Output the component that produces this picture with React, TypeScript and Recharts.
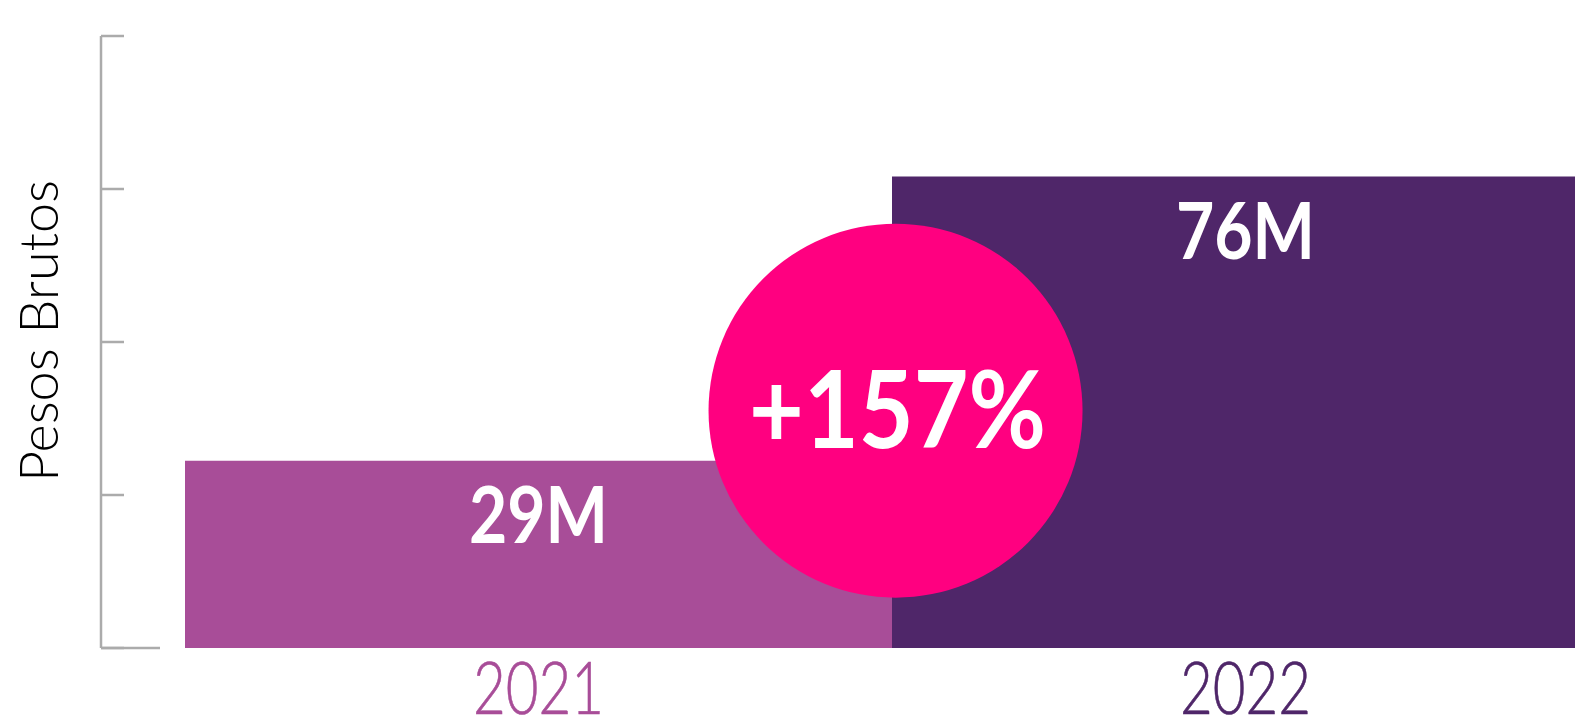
import React from "react";
import { BarChart, Bar, XAxis, YAxis, Cell, LabelList, ReferenceDot } from "recharts";

// Pesos brutos por año (millones)
const years = ["2021", "2022"];
const pesosBrutos = [30, 75.5];
const valueLabels = ["29M", "76M"];
const growthLabel = "+157%";
const yTicks = [0, 24.5, 49, 73.5, 98];
const barColors = ["#A84D98", "#4F2669"];

// position of the growth badge, in axis units
const badgeX = 1.005;
const badgeY = 38;

const data = years.map((year, i) => ({
  year,
  value: pesosBrutos[i],
  label: valueLabels[i],
  pos: i,
}));

const FONT = "Lato, 'Open Sans', sans-serif";
const AXIS_GREY = "#ABABAB";

function YearTick(props: any) {
  const { x, y, payload, index } = props;
  return (
    <text
      x={x}
      y={y + 66}
      textAnchor="middle"
      fontFamily={FONT}
      fontWeight={300}
      fontSize={72}
      fill={barColors[index]}
      stroke={barColors[index]}
      strokeWidth={0.6}
      textLength={131}
      lengthAdjust="spacingAndGlyphs"
    >
      {payload.value}
    </text>
  );
}

function YTick(props: any) {
  const { x, y, payload } = props;
  if (payload.value !== 0) return null;
  // the zero tick runs a bit longer than the others
  const x0 = x - 23;
  return <line x1={x0} y1={y} x2={x0 + 59} y2={y} stroke={AXIS_GREY} strokeWidth={2.5} />;
}

function ValueLabel(props: any) {
  const { x, y, width, index } = props;
  return (
    <text
      x={x + width / 2}
      y={y + 82}
      textAnchor="middle"
      fontFamily={FONT}
      fontWeight={700}
      fontSize={78}
      fill="#FFFFFF"
      textLength={139}
      lengthAdjust="spacingAndGlyphs"
    >
      {valueLabels[index]}
    </text>
  );
}

function Badge(props: any) {
  const { cx, cy } = props;
  return (
    <g>
      <circle cx={cx} cy={cy} r={187} fill="#FF0080" />
      <text
        x={cx + 2}
        y={cy + 37}
        textAnchor="middle"
        fontFamily={FONT}
        fontWeight={700}
        fontSize={107}
        fill="#FFFFFF"
        textLength={297}
        lengthAdjust="spacingAndGlyphs"
      >
        {growthLabel}
      </text>
    </g>
  );
}

function YTitle() {
  return (
    <text
      x={58}
      y={331}
      transform="rotate(-90 58 331)"
      textAnchor="middle"
      fontFamily={FONT}
      fontWeight={300}
      fontSize={54}
      fill="#000000"
    >
      Pesos Brutos
    </text>
  );
}

export default function App() {
  return (
    <div
      style={{
        position: "absolute",
        left: 0,
        top: 0,
        width: 1575,
        height: 718,
        overflow: "hidden",
        background: "#FFFFFF",
      }}
    >
      <BarChart
        width={1599}
        height={718}
        data={data}
        margin={{ top: 36, right: 0, left: 101, bottom: 0 }}
        barCategoryGap={0}
        barGap={0}
      >
        <XAxis
          dataKey="year"
          height={70}
          axisLine={false}
          tickLine={false}
          tickSize={0}
          tickMargin={0}
          padding={{ left: 84, right: 0 }}
          tick={<YearTick />}
          interval={0}
        />
        <XAxis
          xAxisId="pos"
          type="number"
          dataKey="pos"
          domain={[0, 2]}
          allowDataOverflow
          hide
          padding={{ left: 84, right: 0 }}
        />
        <YAxis
          mirror
          domain={[0, 98]}
          ticks={yTicks}
          tickSize={23}
          tickMargin={0}
          axisLine={{ stroke: AXIS_GREY, strokeWidth: 2.5 }}
          tickLine={{ stroke: AXIS_GREY, strokeWidth: 2.5 }}
          tick={<YTick />}
        />
        <Bar dataKey="value" isAnimationActive={false}>
          {data.map((d, i) => (
            <Cell key={d.year} fill={barColors[i]} />
          ))}
          <LabelList dataKey="label" content={<ValueLabel />} />
        </Bar>
        <ReferenceDot
          xAxisId="pos"
          x={badgeX}
          y={badgeY}
          r={187}
          ifOverflow="visible"
          shape={<Badge />}
        />
        <YTitle />
      </BarChart>
    </div>
  );
}
